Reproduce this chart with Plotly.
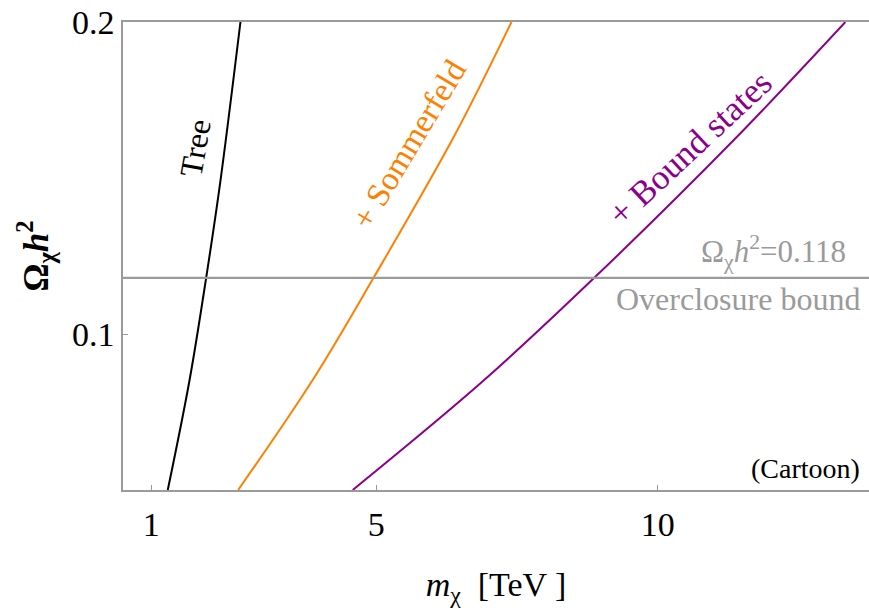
import plotly.graph_objects as go

# ---- data ----
tree_x = [1.295, 1.68, 1.977, 2.23, 2.586]
tree_y = [0.050, 0.085, 0.118, 0.149, 0.200]

somm_x = [2.545, 3.86, 4.95, 6.40, 7.40]
somm_y = [0.050, 0.085, 0.118, 0.164, 0.200]

bound_x = [4.58, 6.90, 8.87, 11.34, 13.33]
bound_y = [0.050, 0.085, 0.118, 0.162, 0.200]

omega_bound = 0.118
x_ticks = [1, 5, 10]
y_ticks = [0.1, 0.2]

FONT = "Liberation Serif"
GRAY = "#9a9a9a"

fig = go.Figure()
fig.add_trace(go.Scatter(x=tree_x, y=tree_y, mode="lines",
                         line=dict(color="black", width=2, shape="spline")))
fig.add_trace(go.Scatter(x=somm_x, y=somm_y, mode="lines",
                         line=dict(color="#ff8000", width=2, shape="spline")))
fig.add_trace(go.Scatter(x=bound_x, y=bound_y, mode="lines",
                         line=dict(color="#8b008b", width=2, shape="spline")))

fig.add_hline(y=omega_bound, line=dict(color=GRAY, width=2.2))

ann = [
    dict(x=1.786, y=0.1595, text="Tree", textangle=-80, font=dict(color="black", size=32)),
    dict(x=5.585, y=0.1608, text="+ Sommerfeld", textangle=-59, font=dict(color="#ff8000", size=33)),
    dict(x=10.57, y=0.1595, text="+ Bound states", textangle=-43, font=dict(color="#8b008b", size=35)),
]
for a in ann:
    a["font"]["family"] = FONT
    fig.add_annotation(xref="x", yref="y", showarrow=False,
                       xanchor="center", yanchor="middle", **a)

fig.add_annotation(xref="x", yref="y", x=13.37, y=0.1264, showarrow=False,
                   xanchor="right", yanchor="middle",
                   text="Ω<sub>χ</sub><i>h</i><sup>2</sup>=0.118",
                   font=dict(family=FONT, size=31, color=GRAY))
fig.add_annotation(xref="x", yref="y", x=13.62, y=0.1113, showarrow=False,
                   xanchor="right", yanchor="middle",
                   text="Overclosure bound",
                   font=dict(family=FONT, size=32, color=GRAY))
fig.add_annotation(xref="x", yref="y", x=13.62, y=0.0568, showarrow=False,
                   xanchor="right", yanchor="middle",
                   text="(Cartoon)",
                   font=dict(family=FONT, size=28, color="black"))

fig.update_layout(
    width=869, height=608,
    margin=dict(l=123, r=0, t=22, b=118),
    paper_bgcolor="white", plot_bgcolor="white",
    showlegend=False,
    font=dict(family=FONT, color="black"),
)
fig.update_xaxes(
    range=[0.5, 13.75], tickvals=x_ticks, ticktext=[str(v) for v in x_ticks],
    showgrid=False, zeroline=False,
    showline=True, linecolor=GRAY, linewidth=1.5, mirror=True,
    ticks="inside", ticklen=5, tickcolor=GRAY, tickwidth=1,
    tickfont=dict(family=FONT, size=34, color="black"),
    ticklabelstandoff=3,
    title=dict(text="<i>m</i><sub>χ</sub>  [TeV ]", font=dict(family=FONT, size=34, color="black"),
               standoff=31),
)
fig.update_yaxes(
    range=[0.05, 0.2], tickvals=y_ticks, ticktext=[str(v) for v in y_ticks],
    showgrid=False, zeroline=False,
    showline=True, linecolor=GRAY, linewidth=1.5, mirror=False,
    ticks="inside", ticklen=5, tickcolor=GRAY, tickwidth=1,
    tickfont=dict(family=FONT, size=34, color="black"),
    ticklabelstandoff=0,
    title=dict(text="<b>Ω<sub>χ</sub><i>h</i><sup>2</sup></b>", font=dict(family=FONT, size=35, color="black"),
               standoff=13),
)

fig.write_html("out.html")
